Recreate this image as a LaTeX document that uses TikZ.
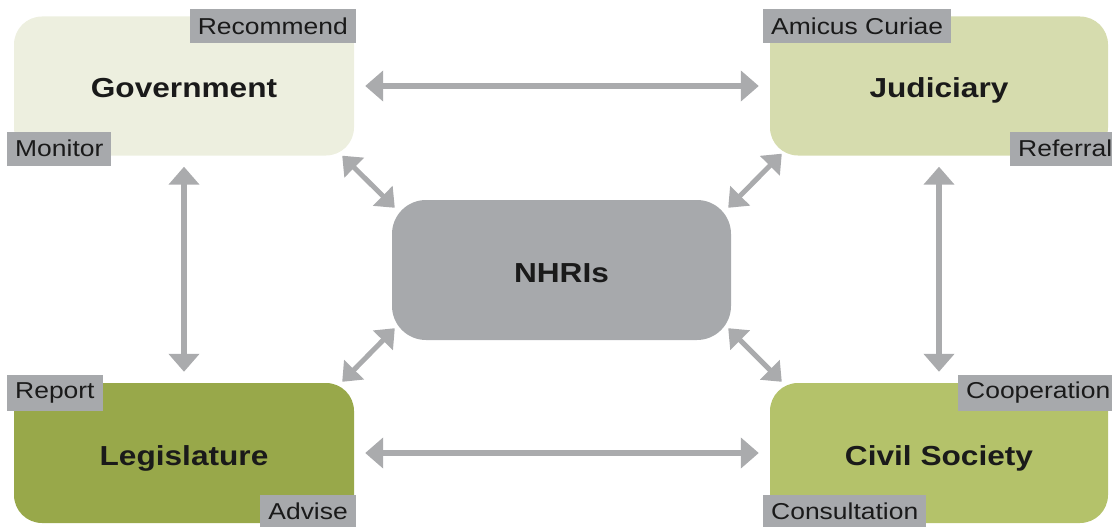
\documentclass[tikz,border=0pt]{standalone}
\usepackage{fontspec}
\setmainfont{Liberation Sans}[FakeStretch=1.15]
\usetikzlibrary{arrows.meta}

\definecolor{govfill}{HTML}{EDEFDF}
\definecolor{judfill}{HTML}{D6DCAE}
\definecolor{legfill}{HTML}{98A84A}
\definecolor{civfill}{HTML}{B4C26A}
\definecolor{hubgray}{HTML}{A7A9AC}
\definecolor{linkgray}{HTML}{AAABAD}
\definecolor{ink}{HTML}{1A1A1A}

\tikzset{
  actor/.style={rectangle,rounded corners=28pt,minimum width=340pt,minimum height=139pt,
    text height=30pt,text depth=6pt,
    text=ink,font=\fontsize{27.5}{32}\selectfont\bfseries},
  role/.style={rectangle,fill=hubgray,inner xsep=8pt,inner ysep=0pt,minimum height=34pt,
    text=ink,font=\fontsize{23}{26}\selectfont},
  link/.style={linkgray,line width=5.5pt,{Triangle[width=30pt,length=18pt]}-{Triangle[width=30pt,length=18pt]},
    shorten <=11pt,shorten >=11pt},
  slant/.style={linkgray,line width=5pt,{Triangle[width=27pt,length=17pt]}-{Triangle[width=27pt,length=17pt]}}
}

\begin{document}
\begin{tikzpicture}[x=1pt,y=-1pt]
\useasboundingbox (0,0) rectangle (1112,527);
\clip (0,0) rectangle (1112,527);

% Actors
\node[actor,fill=govfill] (gov) at (184,86) {Government};
\node[actor,fill=judfill,minimum width=338pt] (jud) at (939,86) {Judiciary};
\node[actor,fill=legfill,minimum height=140pt] (leg) at (184,453) {Legislature};
\node[actor,fill=civfill,minimum width=338pt,minimum height=140pt] (civ) at (939,453) {Civil Society};
\node[actor,fill=hubgray,rounded corners=34pt,minimum width=339pt,minimum height=140pt] (nhri) at (561.5,270) {NHRIs};

% Roles
\node[role,anchor=east] (recommend) at (356,26) {Recommend};
\node[role,anchor=west] (monitor) at (7,148.5) {Monitor};
\node[role,anchor=west] (amicus) at (763,26) {Amicus Curiae};
\node[role,anchor=west] (referral) at (1010,148.5) {Referral};
\node[role,anchor=west,minimum height=36pt] (report) at (7,393) {Report};
\node[role,anchor=east,minimum height=32pt] (advise) at (356,511) {Advise};
\node[role,anchor=west,minimum height=36pt] (cooperation) at (958,393) {Cooperation};
\node[role,anchor=west,minimum height=32pt] (consultation) at (763,511) {Consultation};

% Links between actors
\draw[link] (gov) -- (jud);
\draw[link] (leg) -- (civ);
\draw[link] (gov) -- (leg);
\draw[link] (jud) -- (civ);

% Links to the NHRIs
\draw[slant] ([shift={(-12,0)}]gov.south east) -- ([shift={(3,8)}]nhri.north west);
\draw[slant] ([shift={(12,-2)}]jud.south west) -- ([shift={(-3,8)}]nhri.north east);
\draw[slant] ([shift={(-12,-1)}]leg.north east) -- ([shift={(3,-12)}]nhri.south west);
\draw[slant] ([shift={(12,-1)}]civ.north west) -- ([shift={(-3,-12)}]nhri.south east);

\end{tikzpicture}
\end{document}
